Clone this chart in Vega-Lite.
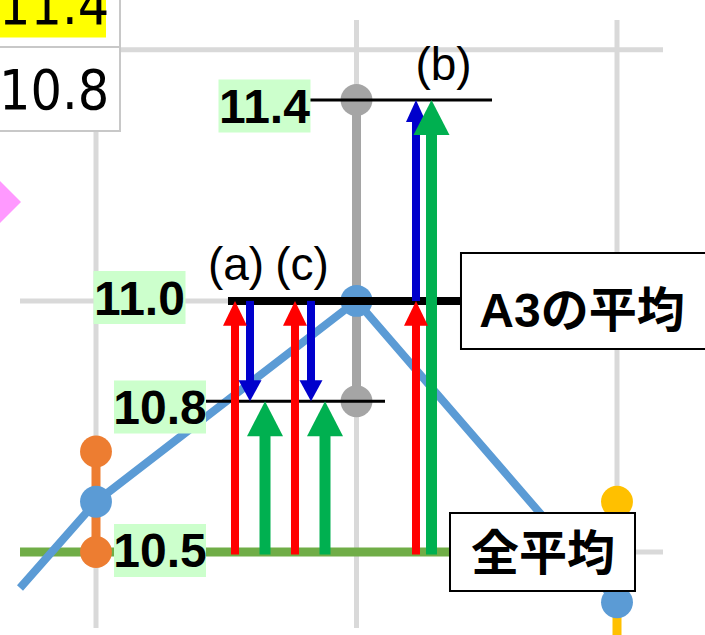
{
  "$schema": "https://vega.github.io/schema/vega-lite/v6.json",
  "width": 705,
  "height": 635,
  "padding": 0,
  "autosize": {"type": "none"},
  "background": "white",
  "config": {"view": {"stroke": null}},
  "datasets": {
    "grid": [
      {"x": 0.7083, "x2": 3.1766, "y": 10.5, "y2": 10.5},
      {"x": 0.7083, "x2": 3.1766, "y": 11.0, "y2": 11.0},
      {"x": 0.7083, "x2": 3.1766, "y": 11.5, "y2": 11.5},
      {"x": 1, "x2": 1, "y": 10.3487, "y2": 11.5593},
      {"x": 2, "x2": 2, "y": 10.3487, "y2": 11.5593},
      {"x": 3, "x2": 3, "y": 10.3487, "y2": 11.5593}
    ],
    "overall": [{"x": 0.7083, "x2": 2.40, "y": 10.5}],
    "spread": [
      {"x": 1, "y": 10.5, "y2": 10.7, "group": "A1"},
      {"x": 2, "y": 10.8, "y2": 11.4, "group": "A2"},
      {"x": 3, "y": 10.2, "y2": 10.6, "group": "A3"}
    ],
    "spreadPts": [
      {"x": 1, "y": 10.5, "group": "A1"},
      {"x": 1, "y": 10.7, "group": "A1"},
      {"x": 2, "y": 10.8, "group": "A2"},
      {"x": 2, "y": 11.4, "group": "A2"},
      {"x": 3, "y": 10.6, "group": "A3"}
    ],
    "trend": [
      {"x": 0.7083, "y": 10.4283},
      {"x": 1, "y": 10.6},
      {"x": 2, "y": 11.0},
      {"x": 3, "y": 10.4}
    ],
    "means": [
      {"x": 1, "y": 10.6},
      {"x": 2, "y": 11.0},
      {"x": 3, "y": 10.4}
    ],
    "thickRef": [{"x": 1.5067, "x2": 2.45, "y": 11.0}],
    "thinRef": [
      {"x": 1.40, "x2": 2.1094, "y": 10.8},
      {"x": 1.80, "x2": 2.5202, "y": 11.4}
    ],
    "arrows": [
      {"x": 1.5336, "y": 10.495, "y2": 10.96, "tip": 11.0, "series": "red", "dir": "up"},
      {"x": 1.5912, "y": 11.0, "y2": 10.835, "tip": 10.8, "series": "blue", "dir": "down"},
      {"x": 1.6488, "y": 10.495, "y2": 10.74, "tip": 10.8, "series": "green", "dir": "up"},
      {"x": 1.7639, "y": 10.495, "y2": 10.96, "tip": 11.0, "series": "red", "dir": "up"},
      {"x": 1.8253, "y": 11.0, "y2": 10.835, "tip": 10.8, "series": "blue", "dir": "down"},
      {"x": 1.8791, "y": 10.495, "y2": 10.74, "tip": 10.8, "series": "green", "dir": "up"},
      {"x": 2.2284, "y": 10.495, "y2": 10.96, "tip": 11.0, "series": "red", "dir": "up"},
      {"x": 2.2284, "y": 11.0, "y2": 11.365, "tip": 11.4, "series": "blue", "dir": "up"},
      {"x": 2.2879, "y": 10.495, "y2": 11.34, "tip": 11.4, "series": "green", "dir": "up"}
    ],
    "valueLabels": [
      {"x": 1.6468, "y": 11.388, "text": "11.4"},
      {"x": 1.1670, "y": 11.0067, "text": "11.0"},
      {"x": 1.2457, "y": 10.7887, "text": "10.8"},
      {"x": 1.2457, "y": 10.503, "text": "10.5"}
    ],
    "boxes": [
      {"x": 2.4011, "x2": 3.45, "y": 11.0953, "y2": 10.9042, "tx": 2.8656, "ty": 10.9838, "text": "A3の平均"},
      {"x": 2.3589, "x2": 3.0691, "y": 10.5776, "y2": 10.4223, "tx": 2.7159, "ty": 10.5, "text": "全平均"}
    ],
    "marker": [{"x": 0.63148, "y": 11.1969}],
    "cell": [{"x": 0.55, "x2": 1.0921, "y": 11.70, "y2": 11.3383}],
    "cellHi": [{"x": 0.55, "x2": 1.0384, "y": 11.70, "y2": 11.5244}],
    "cellLine": [{"x": 0.55, "x2": 1.0921, "y": 11.5055}],
    "cellText": [
      {"x": 0.8390, "y": 11.5513, "text": "11.4"},
      {"x": 0.8390, "y": 11.3821, "text": "10.8"}
    ],
    "tags": [
      {"x": 1.5374, "y": 11.0416, "text": "(a)"},
      {"x": 1.7908, "y": 11.0416, "text": "(c)"},
      {"x": 2.3340, "y": 11.4398, "text": "(b)"}
    ]
  },
  "encoding": {
    "x": {"field": "x", "type": "quantitative", "scale": {"domain": [0.63148, 3.33781], "nice": false, "zero": false}, "axis": null},
    "y": {"field": "y", "type": "quantitative", "scale": {"domain": [10.3347, 11.5991], "nice": false, "zero": false}, "axis": null}
  },
  "layer": [
    {
      "data": {"name": "grid"},
      "mark": {"type": "rule", "color": "#d9d9d9", "strokeWidth": 5, "clip": true},
      "encoding": {"x2": {"field": "x2"}, "y2": {"field": "y2"}}
    },
    {
      "data": {"name": "overall"},
      "mark": {"type": "rule", "color": "#70ad47", "strokeWidth": 9, "clip": true},
      "encoding": {"x2": {"field": "x2"}}
    },
    {
      "data": {"name": "spread"},
      "mark": {"type": "rule", "strokeWidth": 9, "clip": true},
      "encoding": {
        "y2": {"field": "y2"},
        "color": {"field": "group", "type": "nominal", "scale": {"domain": ["A1", "A2", "A3"], "range": ["#ed7d31", "#a5a5a5", "#ffc000"]}, "legend": null}
      }
    },
    {
      "data": {"name": "trend"},
      "mark": {"type": "line", "color": "#5b9bd5", "strokeWidth": 8, "clip": true},
      "encoding": {}
    },
    {
      "data": {"name": "spreadPts"},
      "mark": {"type": "circle", "size": 1018, "opacity": 1, "clip": true},
      "encoding": {
        "color": {"field": "group", "type": "nominal", "scale": {"domain": ["A1", "A2", "A3"], "range": ["#ed7d31", "#a5a5a5", "#ffc000"]}, "legend": null}
      }
    },
    {
      "data": {"name": "means"},
      "mark": {"type": "circle", "size": 1018, "opacity": 1, "color": "#5b9bd5", "clip": true},
      "encoding": {}
    },
    {
      "data": {"name": "thickRef"},
      "mark": {"type": "rule", "color": "#000000", "strokeWidth": 8, "clip": true},
      "encoding": {"x2": {"field": "x2"}}
    },
    {
      "data": {"name": "thinRef"},
      "mark": {"type": "rule", "color": "#000000", "strokeWidth": 3, "clip": true},
      "encoding": {"x2": {"field": "x2"}}
    },
    {
      "data": {"name": "arrows"},
      "transform": [{"filter": "datum.series === 'red'"}],
      "mark": {"type": "rule", "color": "#ff0000", "strokeWidth": 8, "clip": true},
      "encoding": {"y2": {"field": "y2"}}
    },
    {
      "data": {"name": "arrows"},
      "transform": [{"filter": "datum.series === 'blue'"}],
      "mark": {"type": "rule", "color": "#0000cc", "strokeWidth": 8, "clip": true},
      "encoding": {"y2": {"field": "y2"}}
    },
    {
      "data": {"name": "arrows"},
      "transform": [{"filter": "datum.series === 'green'"}],
      "mark": {"type": "rule", "color": "#00b050", "strokeWidth": 11, "clip": true},
      "encoding": {"y2": {"field": "y2"}}
    },
    {
      "data": {"name": "arrows"},
      "transform": [{"filter": "datum.series === 'red'"}],
      "mark": {"type": "point", "filled": true, "opacity": 1, "shape": "M0,0L1,2.08L-1,2.08Z", "size": 576, "color": "#ff0000", "clip": true},
      "encoding": {"y": {"field": "tip", "type": "quantitative"}}
    },
    {
      "data": {"name": "arrows"},
      "transform": [{"filter": "datum.series === 'blue' && datum.dir === 'down'"}],
      "mark": {"type": "point", "filled": true, "opacity": 1, "shape": "M0,0L1,-1.83L-1,-1.83Z", "size": 529, "color": "#0000cc", "clip": true},
      "encoding": {"y": {"field": "tip", "type": "quantitative"}}
    },
    {
      "data": {"name": "arrows"},
      "transform": [{"filter": "datum.series === 'blue' && datum.dir === 'up'"}],
      "mark": {"type": "point", "filled": true, "opacity": 1, "shape": "M0,0L1,2.2L-1,2.2Z", "size": 400, "color": "#0000cc", "clip": true},
      "encoding": {"y": {"field": "tip", "type": "quantitative"}}
    },
    {
      "data": {"name": "arrows"},
      "transform": [{"filter": "datum.series === 'green'"}],
      "mark": {"type": "point", "filled": true, "opacity": 1, "shape": "M0,0L1,1.94L-1,1.94Z", "size": 1296, "color": "#00b050", "clip": true},
      "encoding": {"y": {"field": "tip", "type": "quantitative"}}
    },
    {
      "data": {"name": "valueLabels"},
      "mark": {"type": "point", "filled": true, "opacity": 1, "shape": "M-1.736,-1L1.736,-1L1.736,1L-1.736,1Z", "size": 2809, "color": "#ccffcc", "clip": true},
      "encoding": {}
    },
    {
      "data": {"name": "valueLabels"},
      "mark": {"type": "text", "font": "Liberation Sans", "fontWeight": "bold", "fontSize": 48, "align": "center", "baseline": "middle", "dy": 3, "color": "#000000", "clip": true},
      "encoding": {"text": {"field": "text"}}
    },
    {
      "data": {"name": "boxes"},
      "mark": {"type": "rect", "fill": "#ffffff", "stroke": "#000000", "strokeWidth": 2, "clip": true},
      "encoding": {"x2": {"field": "x2"}, "y2": {"field": "y2"}}
    },
    {
      "data": {"name": "boxes"},
      "mark": {"type": "text", "font": "Liberation Sans, Noto Sans CJK JP", "fontWeight": "bold", "fontSize": 48, "align": "center", "baseline": "middle", "dy": 4, "color": "#000000", "clip": true},
      "encoding": {
        "x": {"field": "tx", "type": "quantitative"},
        "y": {"field": "ty", "type": "quantitative"},
        "text": {"field": "text"}
      }
    },
    {
      "data": {"name": "marker"},
      "mark": {"type": "point", "filled": true, "opacity": 1, "shape": "diamond", "size": 1764, "color": "#ff99ff", "clip": true},
      "encoding": {}
    },
    {
      "data": {"name": "cell"},
      "mark": {"type": "rect", "fill": "#ffffff", "stroke": "#c8c8c8", "strokeWidth": 2, "clip": true},
      "encoding": {"x2": {"field": "x2"}, "y2": {"field": "y2"}}
    },
    {
      "data": {"name": "cellHi"},
      "mark": {"type": "rect", "fill": "#ffff00", "clip": true},
      "encoding": {"x2": {"field": "x2"}, "y2": {"field": "y2"}}
    },
    {
      "data": {"name": "cellLine"},
      "mark": {"type": "rule", "color": "#c8c8c8", "strokeWidth": 2, "clip": true},
      "encoding": {"x2": {"field": "x2"}}
    },
    {
      "data": {"name": "cellText"},
      "mark": {"type": "text", "font": "DejaVu Sans Condensed, DejaVu Sans", "fontSize": 55, "align": "center", "baseline": "alphabetic", "color": "#000000", "clip": true},
      "encoding": {"text": {"field": "text"}}
    },
    {
      "data": {"name": "tags"},
      "mark": {"type": "text", "font": "Liberation Sans", "fontSize": 46, "align": "center", "baseline": "alphabetic", "color": "#000000", "clip": true},
      "encoding": {"text": {"field": "text"}}
    }
  ]
}
